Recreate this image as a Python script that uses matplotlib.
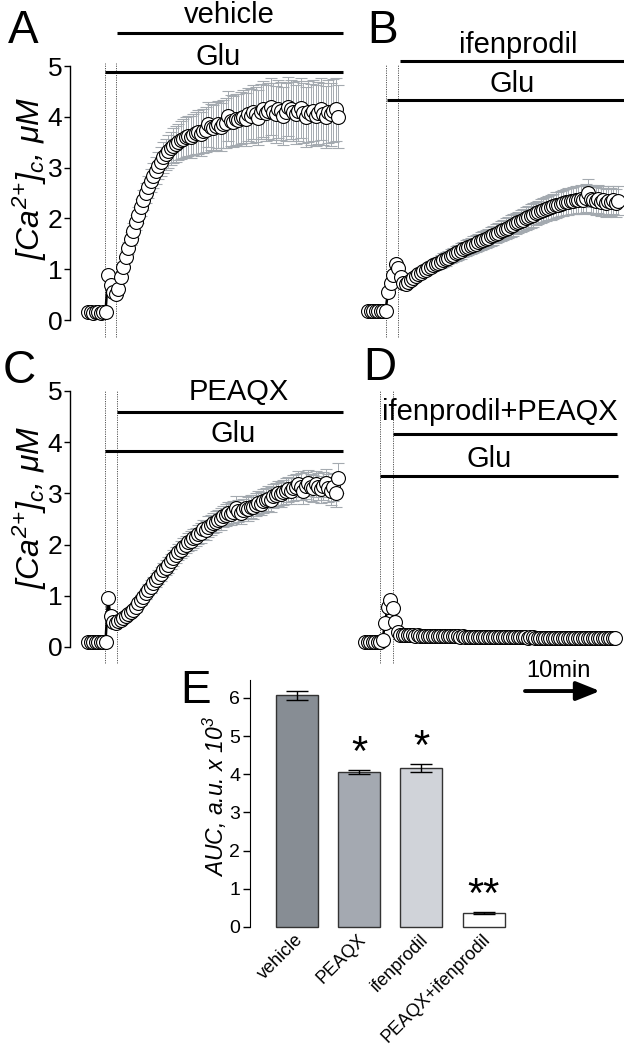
import numpy as np
import matplotlib
matplotlib.use('Agg')
import matplotlib.pyplot as plt
from matplotlib.transforms import ScaledTranslation

plt.rcParams['font.family'] = ['Liberation Sans', 'DejaVu Sans']
plt.rcParams['mathtext.fontset'] = 'custom'
plt.rcParams['mathtext.rm'] = 'Liberation Sans:italic'
plt.rcParams['mathtext.it'] = 'Liberation Sans:italic'
plt.rcParams['mathtext.default'] = 'it'

# ---------------- data (frames of 20 s; 30 frames = 10 min) ----------------
vehicle_mean = [0.15, 0.15, 0.14, 0.15, 0.15, 0.14, 0.15, 0.15,
                0.88, 0.68, 0.56, 0.52, 0.62,
                0.85, 1.05, 1.25, 1.42, 1.60, 1.76, 1.92, 2.06,
                2.22, 2.36, 2.50, 2.62, 2.74, 2.84, 2.94, 3.04, 3.12, 3.20,
                3.26, 3.32, 3.38, 3.43, 3.47, 3.50, 3.54, 3.57, 3.60, 3.62,
                3.60, 3.65, 3.68, 3.70, 3.66, 3.72, 3.75, 3.85, 3.80, 3.78,
                3.82, 3.85, 3.80, 3.86, 3.88, 4.02, 3.92, 3.90, 3.95, 3.93,
                3.97, 4.00, 3.95, 4.05, 4.02, 4.10, 4.05, 3.98, 4.10, 4.15,
                4.08, 4.12, 4.20, 4.10, 4.05, 4.15, 4.12, 4.02, 4.10, 4.20,
                4.15, 4.10, 4.05, 4.12, 4.18, 4.08, 4.00, 4.10, 4.05, 4.12,
                4.02, 4.08, 4.15, 4.05, 4.00, 4.10, 4.05, 4.12, 4.15, 4.00]
vehicle_sem = [0.03, 0.03, 0.03, 0.03, 0.03, 0.03, 0.03, 0.03,
               0.06, 0.06, 0.07, 0.07, 0.08,
               0.09, 0.10, 0.11, 0.12, 0.13, 0.14, 0.15, 0.16,
               0.17, 0.19, 0.20, 0.22, 0.23, 0.25, 0.26, 0.27, 0.28, 0.30,
               0.31, 0.32, 0.33, 0.34, 0.35, 0.36, 0.37, 0.38, 0.39, 0.40,
               0.41, 0.41, 0.42, 0.43, 0.43, 0.44, 0.45, 0.45, 0.46, 0.46,
               0.47, 0.47, 0.48, 0.48, 0.49, 0.49, 0.50, 0.50, 0.50, 0.51,
               0.51, 0.52, 0.52, 0.52, 0.53, 0.53, 0.54, 0.54, 0.54, 0.55,
               0.55, 0.55, 0.56, 0.56, 0.56, 0.57, 0.57, 0.57, 0.57, 0.58,
               0.58, 0.58, 0.58, 0.59, 0.59, 0.59, 0.59, 0.60, 0.60, 0.60,
               0.60, 0.61, 0.61, 0.61, 0.61, 0.62, 0.62, 0.62, 0.62, 0.62]

ifenprodil_mean = [0.18, 0.18, 0.17, 0.18, 0.18, 0.17, 0.18, 0.18,
                   0.55, 0.72, 0.88, 1.10, 1.02, 0.85, 0.72, 0.70,
                   0.74, 0.78, 0.82, 0.86, 0.90, 0.93, 0.96, 0.99, 1.02, 1.05,
                   1.08, 1.10, 1.13, 1.15, 1.18,
                   1.20, 1.23, 1.26, 1.28, 1.31, 1.33, 1.36, 1.39, 1.42, 1.43,
                   1.45, 1.48, 1.50, 1.53, 1.55, 1.58, 1.60, 1.62, 1.65, 1.67,
                   1.70, 1.72, 1.75, 1.77, 1.80, 1.82, 1.85, 1.87, 1.90, 1.92,
                   1.95, 1.97, 2.00, 2.02, 2.05, 2.07, 2.10, 2.12, 2.14, 2.16,
                   2.18, 2.20, 2.22, 2.24, 2.26, 2.27, 2.29, 2.30, 2.32, 2.33,
                   2.34, 2.35, 2.36, 2.37, 2.38, 2.36, 2.40, 2.50, 2.38, 2.36,
                   2.34, 2.38, 2.32, 2.36, 2.30, 2.35, 2.32, 2.36, 2.30, 2.35]
ifenprodil_sem = [0.03, 0.03, 0.03, 0.03, 0.03, 0.03, 0.03, 0.03,
                  0.05, 0.06, 0.07, 0.08, 0.08, 0.07, 0.06, 0.06,
                  0.07, 0.07, 0.08, 0.08, 0.09, 0.09, 0.10, 0.10, 0.10, 0.11,
                  0.11, 0.12, 0.12, 0.12, 0.13,
                  0.13, 0.13, 0.14, 0.14, 0.14, 0.15, 0.15, 0.15, 0.16, 0.16,
                  0.16, 0.17, 0.17, 0.17, 0.18, 0.18, 0.18, 0.18, 0.19, 0.19,
                  0.19, 0.19, 0.20, 0.20, 0.20, 0.20, 0.21, 0.21, 0.21, 0.21,
                  0.22, 0.22, 0.22, 0.22, 0.23, 0.23, 0.23, 0.23, 0.24, 0.24,
                  0.24, 0.24, 0.25, 0.25, 0.25, 0.25, 0.25, 0.26, 0.26, 0.26,
                  0.26, 0.26, 0.27, 0.27, 0.27, 0.27, 0.27, 0.28, 0.27, 0.27,
                  0.27, 0.28, 0.28, 0.28, 0.28, 0.28, 0.28, 0.28, 0.28, 0.28]

peaqx_mean = [0.10, 0.10, 0.09, 0.10, 0.10, 0.09, 0.10, 0.10,
              0.95, 0.60, 0.48, 0.47, 0.50,
              0.53, 0.56, 0.60, 0.64, 0.68, 0.72, 0.78, 0.85, 0.92, 0.98,
              1.05, 1.12, 1.18, 1.25, 1.31, 1.37, 1.43, 1.50,
              1.55, 1.60, 1.67, 1.74, 1.80, 1.86, 1.90, 1.95, 2.00, 2.05,
              2.08, 2.12, 2.15, 2.20, 2.23, 2.30, 2.28, 2.35, 2.38, 2.42,
              2.45, 2.48, 2.50, 2.55, 2.58, 2.62, 2.60, 2.64, 2.72, 2.66,
              2.62, 2.68, 2.72, 2.70, 2.74, 2.73, 2.78, 2.82, 2.80, 2.85,
              2.87, 2.90, 2.88, 2.95, 2.97, 3.00, 2.98, 3.02, 3.05, 3.08,
              3.05, 3.10, 3.12, 3.18, 3.13, 3.05, 3.15, 3.20, 3.12, 3.10,
              3.18, 3.13, 3.08, 3.15, 3.20, 3.10, 3.05, 3.12, 3.00, 3.30]
peaqx_sem = [0.03, 0.03, 0.03, 0.03, 0.03, 0.03, 0.03, 0.03,
             0.06, 0.05, 0.05, 0.05, 0.05,
             0.06, 0.06, 0.07, 0.07, 0.08, 0.08, 0.09, 0.09, 0.10, 0.10,
             0.11, 0.11, 0.12, 0.12, 0.13, 0.13, 0.14, 0.14,
             0.15, 0.15, 0.15, 0.16, 0.16, 0.16, 0.17, 0.17, 0.17, 0.18,
             0.18, 0.18, 0.18, 0.19, 0.19, 0.19, 0.19, 0.20, 0.20, 0.20,
             0.20, 0.20, 0.21, 0.21, 0.21, 0.21, 0.21, 0.22, 0.22, 0.22,
             0.22, 0.22, 0.22, 0.23, 0.23, 0.23, 0.23, 0.23, 0.23, 0.24,
             0.24, 0.24, 0.24, 0.24, 0.24, 0.25, 0.25, 0.25, 0.25, 0.25,
             0.25, 0.25, 0.25, 0.26, 0.26, 0.26, 0.26, 0.26, 0.26, 0.26,
             0.26, 0.26, 0.26, 0.27, 0.27, 0.27, 0.27, 0.27, 0.27, 0.30]

combo_mean = [0.10, 0.10, 0.09, 0.10, 0.10, 0.09, 0.10,
              0.13, 0.47, 0.78, 0.92, 0.76, 0.49, 0.30, 0.24,
              0.23, 0.23, 0.23, 0.23, 0.23, 0.22, 0.23, 0.22, 0.22, 0.22,
              0.22, 0.22, 0.22, 0.21, 0.22, 0.21, 0.21, 0.21, 0.21, 0.21,
              0.21, 0.21, 0.21, 0.20, 0.21, 0.20, 0.20, 0.20, 0.20, 0.20,
              0.20, 0.20, 0.20, 0.20, 0.19, 0.20, 0.20, 0.19, 0.19, 0.19,
              0.19, 0.19, 0.19, 0.19, 0.19, 0.19, 0.19, 0.19, 0.19, 0.19,
              0.18, 0.19, 0.19, 0.18, 0.18, 0.18, 0.18, 0.18, 0.18, 0.18,
              0.18, 0.18, 0.18, 0.18, 0.17, 0.18, 0.18, 0.18, 0.18, 0.18,
              0.17, 0.18, 0.18, 0.18, 0.18, 0.18, 0.17, 0.18, 0.18, 0.18,
              0.18, 0.18, 0.18, 0.17, 0.18, 0.18]
combo_sem = [0.02, 0.02, 0.02, 0.02, 0.02, 0.02, 0.02,
             0.03, 0.06, 0.07, 0.08, 0.06, 0.05, 0.04, 0.03,
             0.02, 0.02, 0.02, 0.02, 0.02, 0.02, 0.02, 0.02, 0.02, 0.02,
             0.02, 0.02, 0.02, 0.02, 0.02, 0.02, 0.02, 0.02, 0.02, 0.02,
             0.02, 0.02, 0.02, 0.02, 0.02, 0.02, 0.02, 0.02, 0.02, 0.02,
             0.02, 0.02, 0.02, 0.02, 0.02, 0.02, 0.02, 0.02, 0.02, 0.02,
             0.02, 0.02, 0.02, 0.02, 0.02, 0.02, 0.02, 0.02, 0.02, 0.02,
             0.02, 0.02, 0.02, 0.02, 0.02, 0.02, 0.02, 0.02, 0.02, 0.02,
             0.02, 0.02, 0.02, 0.02, 0.02, 0.02, 0.02, 0.02, 0.02, 0.02,
             0.02, 0.02, 0.02, 0.02, 0.02, 0.02, 0.02, 0.02, 0.02, 0.02,
             0.02, 0.02, 0.02, 0.02, 0.02, 0.02]

auc_groups = ['vehicle', 'PEAQX', 'ifenprodil', 'PEAQX+ifenprodil']
auc_mean = [6.07, 4.06, 4.17, 0.36]
auc_sem = [0.12, 0.05, 0.10, 0.02]
auc_sig = ['', '*', '*', '**']
yticks_trace = [0, 1, 2, 3, 4, 5]
yticks_auc = [0, 1, 2, 3, 4, 5, 6]

# ---------------- layout ----------------
W, H = 624, 1048
FRAME_PX = 2.5
ERR_C = '#a4aab0'
fig = plt.figure(figsize=(W / 100, H / 100), dpi=100)


def px_axes(x0, x1, ytop, ybot):
    return fig.add_axes([x0 / W, 1 - ybot / H, (x1 - x0) / W, (ybot - ytop) / H])


def trace_panel(box, xorg, yorg, sc, vals, errs, show_axis):
    x0, x1, yt, yb = box
    ax = px_axes(*box)
    ax.set_xlim((x0 - xorg) / FRAME_PX, (x1 - xorg) / FRAME_PX)
    ax.set_ylim((yorg - yb) / sc, (yorg - yt) / sc)
    t = np.arange(len(vals))
    ax.errorbar(t, vals, yerr=errs, fmt='none', ecolor=ERR_C, elinewidth=0.7,
                capsize=4, capthick=0.8, zorder=1)
    ax.plot(t, vals, '-', color='k', lw=1.8, zorder=2)
    ax.plot(t, vals, 'o', ms=10, mfc='white', mec='black', mew=0.8, zorder=3)
    for s in ['top', 'right', 'bottom']:
        ax.spines[s].set_visible(False)
    if show_axis:
        ax.spines['left'].set_bounds(0, 5)
        ax.spines['left'].set_linewidth(1.0)
        ax.set_yticks(yticks_trace)
        ax.tick_params(axis='y', length=4, width=1, pad=1.5, labelsize=19)
    else:
        ax.spines['left'].set_visible(False)
        ax.set_yticks([])
    ax.set_xticks([])
    ax.patch.set_visible(False)
    return ax


def hbar(ax, xa, xb, y):
    ax.plot([xa, xb], [y, y], color='k', lw=2.2, solid_capstyle='butt', clip_on=False, zorder=4)


def dotted(ax, x, ylo, yhi):
    ax.plot([x, x], [ylo, yhi], color='#555555', lw=0.7, ls=(0, (1.2, 1.2)), clip_on=False, zorder=0)


def label(ax, x, y, s, size=21):
    ax.text(x, y, s, ha='center', va='baseline', fontsize=size)


# Panel A
axA = trace_panel((70, 350, 0, 340), 88, 320, 50.8, vehicle_mean, vehicle_sem, True)
dotted(axA, 6.8, -0.33, 5.06); dotted(axA, 11.2, -0.33, 5.06)
hbar(axA, 6.8, 102, 4.88); label(axA, 52, 5.02, 'Glu')
hbar(axA, 11.6, 102, 5.65); label(axA, 56.4, 5.85, 'vehicle')

# Panel B
axB = trace_panel((350, 630, 0, 340), 368, 320, 50.8, ifenprodil_mean, ifenprodil_sem, False)
dotted(axB, 7.2, -0.33, 5.02); dotted(axB, 12.0, -0.33, 5.02)
hbar(axB, 7.6, 104, 4.33); label(axB, 57.6, 4.49, 'Glu')
hbar(axB, 12.8, 104, 5.10); label(axB, 60, 5.26, 'ifenprodil')

# Panel C
axC = trace_panel((70, 350, 340, 670), 88, 647, 51.2, peaqx_mean, peaqx_sem, True)
dotted(axC, 6.8, -0.31, 5.02); dotted(axC, 11.6, -0.31, 5.02)
hbar(axC, 6.8, 102, 3.83); label(axC, 58, 4.0, 'Glu')
hbar(axC, 11.6, 102, 4.59); label(axC, 60.4, 4.82, 'PEAQX')

# Panel D
axD = trace_panel((346, 626, 340, 700), 365, 647, 51.2, combo_mean, combo_sem, False)
dotted(axD, 6.0, -0.31, 5.02); dotted(axD, 11.2, -0.31, 5.02)
hbar(axD, 6.0, 101, 3.34); label(axD, 49.6, 3.52, 'Glu')
hbar(axD, 11.2, 100.8, 4.16); label(axD, 54, 4.43, 'ifenprodil+PEAQX')
# 10 min scale arrow (30 frames)
axD.annotate('', xy=(94, -0.86), xytext=(64, -0.86),
             arrowprops=dict(arrowstyle='-|>,head_length=0.8,head_width=0.32', lw=2.8,
                             color='k', mutation_scale=18, shrinkA=0, shrinkB=0),
             annotation_clip=False)
axD.text(77.2, -0.59, '10min', ha='center', va='baseline', fontsize=17)

# y labels for traces
ylab = r'$[Ca^{2{+}}]_c$, μM'
fig.text(30 / W, 1 - 178 / H, ylab, rotation=90, ha='center', va='center',
         fontsize=23, style='italic')
fig.text(30 / W, 1 - 507 / H, ylab, rotation=90, ha='center', va='center',
         fontsize=23, style='italic')

# Panel E
axE = px_axes(250, 520, 670, 935)
xE = np.arange(len(auc_groups))
axE.set_xlim(-0.756, 3.585)
axE.set_ylim(-0.21, 6.73)
bar_colors = ['#878d94', '#a4a9b1', '#d0d3d9', '#ffffff']
axE.bar(xE, auc_mean, width=0.675, color=bar_colors, edgecolor='#333333', linewidth=1.0, zorder=2)
axE.errorbar(xE, auc_mean, yerr=auc_sem, fmt='none', ecolor='k', elinewidth=1.0,
             capsize=8, capthick=1.0, zorder=3)
for xi, m, e, s in zip(xE, auc_mean, auc_sem, auc_sig):
    if s:
        axE.text(xi, m + e + 0.42, s, ha='center', va='center', fontsize=30)
for s in ['top', 'right', 'bottom']:
    axE.spines[s].set_visible(False)
axE.spines['left'].set_bounds(0, 6.47)
axE.set_yticks(yticks_auc)
axE.tick_params(axis='y', length=5, width=1, pad=2, labelsize=14)
axE.set_xticks(xE)
axE.set_xticklabels(auc_groups, rotation=45, ha='right', va='center', rotation_mode='anchor',
                    fontsize=13)
axE.tick_params(axis='x', length=0, pad=1.5)
shift = ScaledTranslation(4 / 100, 0, fig.dpi_scale_trans)
for lbl in axE.get_xticklabels():
    lbl.set_transform(lbl.get_transform() + shift)
axE.patch.set_visible(False)
fig.text(215 / W, 1 - 797 / H, r'AUC, a.u. x $10^3$', rotation=90, ha='center', va='center',
         fontsize=16.5, style='italic')

# panel letters
for s, x, y in [('A', 8, 43), ('B', 367, 43), ('C', 3, 383), ('D', 363, 380), ('E', 180, 703)]:
    fig.text(x / W, 1 - y / H, s, ha='left', va='baseline', fontsize=33)

fig.savefig('out.png', dpi=100)
